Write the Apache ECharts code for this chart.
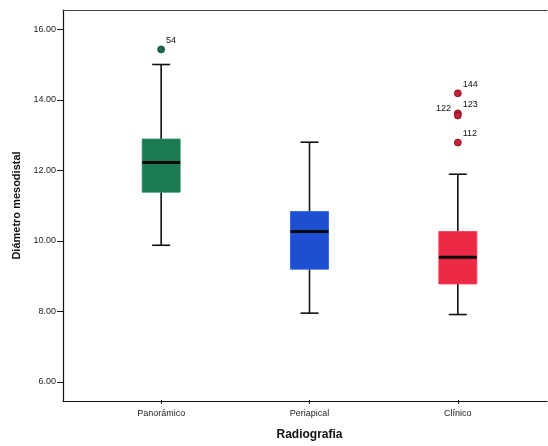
<!DOCTYPE html>
<html>
<head>
<meta charset="utf-8">
<style>html,body{margin:0;padding:0;background:#fff;}#c{width:548px;height:446px;}</style>
<script src="https://cdn.jsdelivr.net/npm/echarts@6/dist/echarts.min.js"></script>
</head>
<body>
<div id="c"></div>
<script>
const categories = ['Panorámico', 'Periapical', 'Clínico'];
const whiskerLow  = [9.86, 7.93, 7.89];
const q1          = [11.37, 9.18, 8.76];
const median      = [12.21, 10.25, 9.52];
const q3          = [12.88, 10.82, 10.25];
const whiskerHigh = [15.00, 12.79, 11.88];
const outlierCat   = [0, 2, 2, 2, 2];
const outlierValue = [15.43, 14.18, 13.61, 13.55, 12.78];
const outlierLabel = ['54', '144', '123', '122', '112'];
const yTicks = [6, 8, 10, 12, 14, 16];

const boxColors = ['#1b7a52', '#1f4fd1', '#ec2a45'];
const pointColors = ['#1a6a4a', '#1a6a4a', '#c41f3b'];
const FONT = '"Liberation Sans", Arial, sans-serif';
const Y_MIN = 5.46, Y_MAX = 16.55;

const chart = echarts.init(document.getElementById('c'), null, {renderer: 'canvas'});

const boxData = categories.map((c, i) => [i, whiskerLow[i], q1[i], median[i], q3[i], whiskerHigh[i]]);
const outData = outlierValue.map((v, i) => ({
  value: [outlierCat[i], v],
  itemStyle: {color: pointColors[outlierCat[i]], opacity: 1,
              borderColor: outlierCat[i] === 2 ? '#7a1022' : '#124a34', borderWidth: 0.8},
  label: outlierLabel[i] === '122'
    ? {position: 'left', distance: 3, offset: [0, -7]}
    : {position: 'right', distance: 1, offset: [0, -9]}
}));

chart.setOption({
  animation: false,
  backgroundColor: '#fff',
  grid: [
    {left: 63, right: 1, top: 10, bottom: 45},
    {left: 87, right: 16, top: 10, bottom: 45}
  ],
  xAxis: [
    {gridIndex: 0, type: 'value', min: 0, max: 1, position: 'bottom',
     axisLine: {show: true, lineStyle: {color: '#111', width: 1.2}},
     axisTick: {show: false}, axisLabel: {show: false}, splitLine: {show: false}},
    {gridIndex: 0, type: 'value', min: 0, max: 1, position: 'top',
     axisLine: {show: true, lineStyle: {color: '#444', width: 1}},
     axisTick: {show: false}, axisLabel: {show: false}, splitLine: {show: false}},
    {gridIndex: 1, type: 'category', data: categories, position: 'bottom',
     axisLine: {show: true, lineStyle: {color: 'rgba(0,0,0,0)'}},
     axisTick: {show: true, alignWithLabel: true, length: 4, lineStyle: {color: '#111', width: 1}},
     axisLabel: {fontFamily: FONT, fontSize: 9, color: '#222', margin: 9},
     name: 'Radiografia', nameLocation: 'middle', nameGap: 29,
     nameTextStyle: {fontFamily: FONT, fontSize: 12, fontWeight: 'bold', color: '#111'},
     splitLine: {show: false}}
  ],
  yAxis: [
    {gridIndex: 0, type: 'value', min: Y_MIN, max: Y_MAX,
     axisLine: {show: true, lineStyle: {color: '#111', width: 1.2}},
     axisTick: {show: true, customValues: yTicks, length: 6, lineStyle: {color: '#111'}},
     axisLabel: {customValues: yTicks, fontFamily: FONT, fontSize: 9, color: '#222', margin: 7,
                 formatter: v => Number(v).toFixed(2)},
     splitLine: {show: false},
     name: 'Diámetro mesodistal', nameLocation: 'middle', nameGap: 39,
     nameTextStyle: {fontFamily: FONT, fontSize: 11, fontWeight: 'bold', color: '#111'}},
    {gridIndex: 1, type: 'value', min: Y_MIN, max: Y_MAX, show: false, splitLine: {show: false}}
  ],
  series: [
    {
      type: 'custom', xAxisIndex: 2, yAxisIndex: 1,
      data: boxData,
      encode: {x: 0, y: [1, 2, 3, 4, 5]},
      renderItem: function (params, api) {
        const i = api.value(0);
        const pLo = api.coord([i, api.value(1)]);
        const pQ1 = api.coord([i, api.value(2)]);
        const pMed = api.coord([i, api.value(3)]);
        const pQ3 = api.coord([i, api.value(4)]);
        const pHi = api.coord([i, api.value(5)]);
        const cx = pLo[0];
        const half = 19, cap = 9;
        const ls = {stroke: '#111', lineWidth: 1.6};
        return {
          type: 'group',
          children: [
            {type: 'line', shape: {x1: cx, y1: pHi[1], x2: cx, y2: pQ3[1]}, style: ls},
            {type: 'line', shape: {x1: cx, y1: pQ1[1], x2: cx, y2: pLo[1]}, style: ls},
            {type: 'line', shape: {x1: cx - cap, y1: pHi[1], x2: cx + cap, y2: pHi[1]}, style: ls},
            {type: 'line', shape: {x1: cx - cap, y1: pLo[1], x2: cx + cap, y2: pLo[1]}, style: ls},
            {type: 'rect', shape: {x: cx - half, y: pQ3[1], width: 2 * half, height: pQ1[1] - pQ3[1]},
             style: {fill: boxColors[i], stroke: echarts.color.lift(boxColors[i], -0.15), lineWidth: 0.8}},
            {type: 'line', shape: {x1: cx - half, y1: pMed[1], x2: cx + half, y2: pMed[1]},
             style: {stroke: '#0a0a0a', lineWidth: 3}}
          ]
        };
      }
    },
    {
      type: 'scatter', xAxisIndex: 2, yAxisIndex: 1,
      symbol: 'circle', symbolSize: 7,
      data: outData,
      label: {show: true, fontFamily: FONT, fontSize: 9, color: '#111',
              formatter: p => outlierLabel[p.dataIndex]}
    }
  ]
});
</script>
</body>
</html>
